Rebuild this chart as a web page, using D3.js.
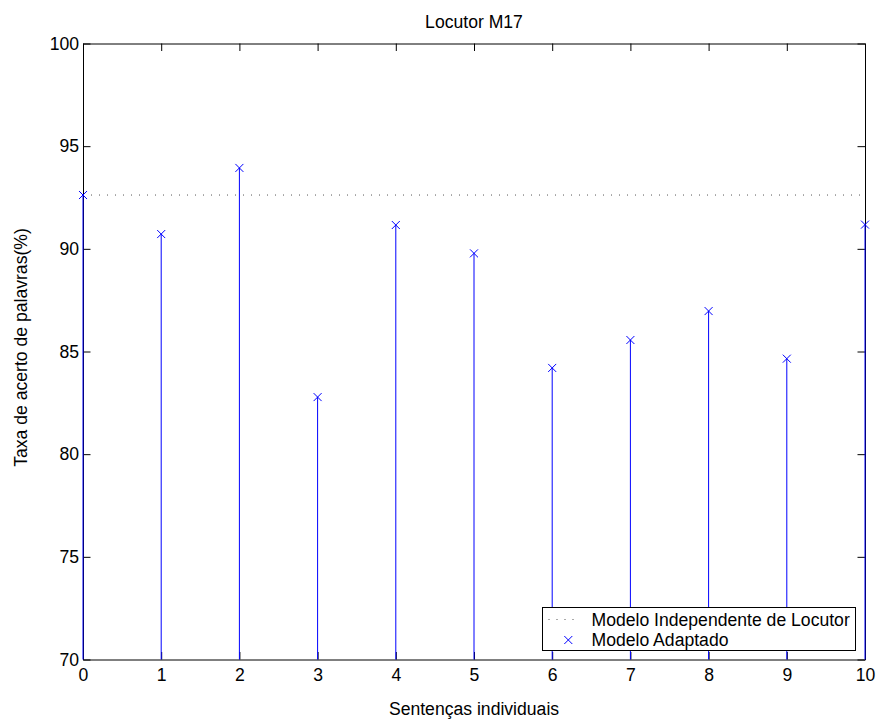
<!DOCTYPE html>
<html>
<head>
<meta charset="utf-8">
<script src="https://cdn.jsdelivr.net/npm/d3@7"></script>
<style>
  html, body { margin: 0; padding: 0; background: #fff; }
  svg { display: block; font-family: "Liberation Sans", Arial, Helvetica, sans-serif; }
</style>
</head>
<body>
<svg id="chart" width="878" height="721"></svg>
<script>
// Sentence indices and word accuracy rates (%)
const sentences = [0, 1, 2, 3, 4, 5, 6, 7, 8, 9, 10];
const adaptedRates = [92.62, 90.72, 93.94, 82.78, 91.16, 89.78, 84.20, 85.56, 86.97, 84.65, 91.18];
const independentRate = 92.62;
const xTicks = [0, 1, 2, 3, 4, 5, 6, 7, 8, 9, 10];
const yTicks = [70, 75, 80, 85, 90, 95, 100];
const legendLabels = ["Modelo Independente de Locutor", "Modelo Adaptado"];

const W = 878, H = 721;
const margin = { left: 83, right: 13, top: 43.5, bottom: 61.5 };
const pw = W - margin.left - margin.right;
const ph = H - margin.top - margin.bottom;
const fontSize = 17.6;
const blue = "#0000ff";

const svg = d3.select("#chart");
const g = svg.append("g").attr("transform", `translate(${margin.left},${margin.top})`);

const x = d3.scaleLinear().domain([0, 10]).range([0, pw]);
const y = d3.scaleLinear().domain([70, 100]).range([ph, 0]);

// Box and inward ticks on all four sides
const tickLen = 7.5;
const axes = [
  { ax: d3.axisBottom(x), tr: `translate(0,${ph})`, labels: true },
  { ax: d3.axisTop(x), tr: `translate(0,0)`, labels: false },
  { ax: d3.axisLeft(y), tr: `translate(0,0)`, labels: true },
  { ax: d3.axisRight(y), tr: `translate(${pw},0)`, labels: false }
];
axes.forEach((a, i) => {
  const isX = i < 2;
  a.ax.tickValues(isX ? xTicks : yTicks)
    .tickFormat(a.labels ? d3.format("d") : () => "")
    .tickSizeInner(-tickLen).tickSizeOuter(0).tickPadding(a.labels ? (isX ? 9 : 4) : 0);
  const sel = g.append("g").attr("transform", a.tr).call(a.ax);
  sel.select(".domain").attr("stroke", "#000").attr("stroke-width", 1);
  sel.selectAll(".tick line").attr("stroke", "#000").attr("stroke-width", 1);
  sel.selectAll(".tick text").attr("fill", "#000").attr("font-size", fontSize)
    .attr("font-family", "Liberation Sans, Arial, sans-serif");
});

// Speaker-independent reference (dotted)
g.append("line")
  .attr("x1", x(0)).attr("x2", x(10))
  .attr("y1", y(independentRate)).attr("y2", y(independentRate))
  .attr("stroke", "#555").attr("stroke-width", 1)
  .attr("stroke-dasharray", "1,7");

// Adapted model stems
g.selectAll(".stem").data(sentences).enter().append("line")
  .attr("class", "stem")
  .attr("x1", d => x(d)).attr("x2", d => x(d))
  .attr("y1", y(70)).attr("y2", (d, i) => y(adaptedRates[i]))
  .attr("stroke", blue).attr("stroke-width", 1);

// Cross markers
const m = 4;
const crossPath = (cx, cy) => `M${cx - m},${cy - m}L${cx + m},${cy + m}M${cx - m},${cy + m}L${cx + m},${cy - m}`;
g.selectAll(".mark").data(sentences).enter().append("path")
  .attr("class", "mark")
  .attr("d", (d, i) => crossPath(x(d), y(adaptedRates[i])))
  .attr("stroke", blue).attr("stroke-width", 1).attr("fill", "none");

// Title and axis labels
svg.append("text").attr("x", margin.left + pw / 2).attr("y", 28)
  .attr("text-anchor", "middle").attr("font-size", fontSize).attr("fill", "#000")
  .text("Locutor M17");
svg.append("text").attr("x", margin.left + pw / 2).attr("y", 715)
  .attr("text-anchor", "middle").attr("font-size", fontSize).attr("fill", "#000")
  .text("Sentenças individuais");
svg.append("text")
  .attr("transform", `translate(27,${margin.top + ph / 2 - 4}) rotate(-90)`)
  .attr("text-anchor", "middle").attr("font-size", fontSize).attr("fill", "#000")
  .text("Taxa de acerto de palavras(%)");

// Legend
const lg = svg.append("g").attr("transform", "translate(542.5,607.5)");
lg.append("rect").attr("width", 313).attr("height", 43)
  .attr("fill", "#fff").attr("stroke", "#000").attr("stroke-width", 1);
lg.append("line").attr("x1", 6).attr("x2", 36).attr("y1", 12).attr("y2", 12)
  .attr("stroke", "#555").attr("stroke-width", 1).attr("stroke-dasharray", "1,7");
lg.append("path").attr("d", crossPath(25.8, 32.5))
  .attr("stroke", blue).attr("stroke-width", 1).attr("fill", "none");
lg.selectAll(".lt").data(legendLabels).enter().append("text")
  .attr("class", "lt")
  .attr("x", 49).attr("y", (d, i) => 18 + i * 20)
  .attr("font-size", fontSize).attr("fill", "#000")
  .text(d => d);
</script>
</body>
</html>
